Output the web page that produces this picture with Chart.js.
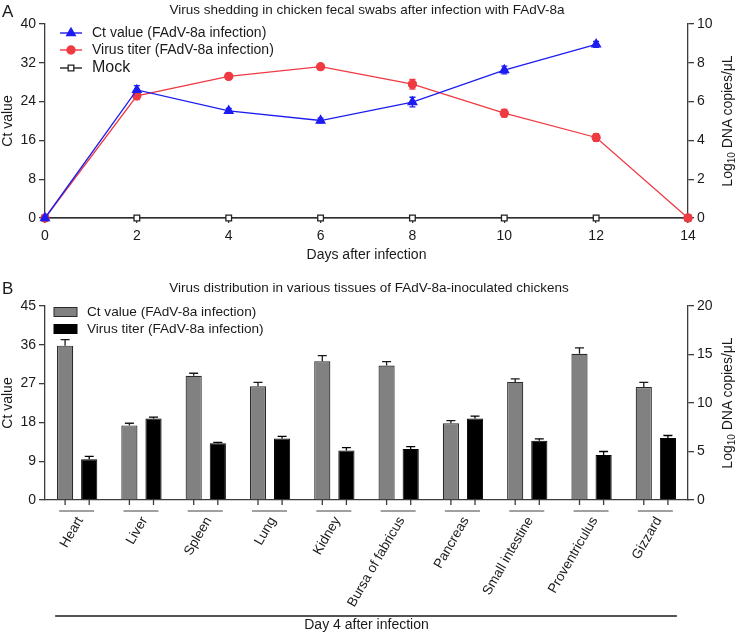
<!DOCTYPE html>
<html>
<head>
<meta charset="utf-8">
<title>FAdV-8a shedding and distribution</title>
<script src="https://cdn.jsdelivr.net/npm/chart.js@4.4.1/dist/chart.umd.min.js"></script>
<style>
  body { margin: 0; background: #fff; font-family: "Liberation Sans", Arial, sans-serif; color: #1a1a1a; }
  #wrap { position: relative; width: 740px; height: 636px; overflow: hidden; }
  canvas { position: absolute; left: 0; }
  #chartA { top: 0; }
  #chartB { top: 270px; }
  .lbl { position: absolute; white-space: nowrap; line-height: 1; }
  .panel { font-size: 17px; }
  .title { font-size: 13.5px; transform: translate(-50%, -50%); }
  .vt { font-size: 14px; transform: translate(-50%, -50%) rotate(-90deg); }
  .vt sub { font-size: 10px; vertical-align: -3px; line-height: 0; }
</style>
</head>
<body>
<div id="wrap">
  <canvas id="chartA" width="740" height="270"></canvas>
  <canvas id="chartB" width="740" height="366"></canvas>

  <div class="lbl panel" style="left:2px; top:3px;">A</div>
  <div class="lbl title" style="left:367px; top:10px;">Virus shedding in chicken fecal swabs after infection with FAdV-8a</div>
  <div class="lbl vt" style="left:727px; top:121px;">Log<sub>10</sub> DNA copies/μL</div>

  <div class="lbl panel" style="left:2px; top:280px;">B</div>
  <div class="lbl title" style="left:369px; top:288px;">Virus distribution in various tissues of FAdV-8a-inoculated chickens</div>
  <div class="lbl vt" style="left:727px; top:403px;">Log<sub>10</sub> DNA copies/μL</div>
</div>

<script>
// panel A: fecal swabs
const days = ["0", "2", "4", "6", "8", "10", "12", "14"];
const ctShedding = [0, 26.4, 22.1, 20.1, 23.9, 30.5, 35.8, null];
const ctSheddingErr = [0, 0.9, 0.5, 0.5, 1.0, 0.8, 0.6, 0];
const titerShedding = [0, 6.3, 7.3, 7.8, 6.9, 5.4, 4.15, 0];
const titerSheddingErr = [0, 0.2, 0.15, 0.1, 0.25, 0.2, 0.2, 0];
const mockShedding = [0, 0, 0, 0, 0, 0, 0, 0];

// panel B: tissues on day 4
const tissues = ["Heart", "Liver", "Spleen", "Lung", "Kidney", "Bursa of fabricus",
  "Pancreas", "Small intestine", "Proventriculus", "Gizzard"];
const ctTissue = [35.8, 17.3, 28.8, 26.4, 32.2, 31.2, 17.8, 27.4, 33.9, 26.2];
const ctTissueErr = [1.4, 0.5, 0.6, 0.9, 1.3, 0.9, 0.6, 0.7, 1.4, 1.1];
const titerTissue = [4.2, 8.4, 5.85, 6.35, 5.1, 5.25, 8.4, 6.1, 4.65, 6.4];
const titerTissueErr = [0.3, 0.15, 0.1, 0.2, 0.3, 0.25, 0.25, 0.2, 0.35, 0.25];

Chart.defaults.font.family = '"Liberation Sans", Arial, Helvetica, sans-serif';
Chart.defaults.font.size = 14;
Chart.defaults.color = '#1a1a1a';

const axisColor = '#3c3c3c';
const blue = '#1c1cf2';
const red = '#ef3a42';

// whiskers drawn with the value scales
const errorBars = {
  id: 'errorBars',
  beforeDatasetsDraw(chart, args, opts) {
    const ctx = chart.ctx;
    chart.data.datasets.forEach((ds, i) => {
      if (!ds.errorBars) return;
      const meta = chart.getDatasetMeta(i);
      const yScale = chart.scales[meta.yAxisID];
      ctx.save();
      ctx.strokeStyle = ds.errorColor || ds.borderColor;
      ctx.lineWidth = 1.3;
      meta.data.forEach((el, j) => {
        const v = ds.data[j];
        const e = ds.errorBars[j];
        if (v == null || !e) return;
        const x = el.x;
        const top = yScale.getPixelForValue(v + e);
        const bottom = opts.oneSided ? el.y : yScale.getPixelForValue(v - e);
        const half = opts.cap / 2;
        ctx.beginPath();
        ctx.moveTo(x, bottom); ctx.lineTo(x, top);
        ctx.moveTo(x - half, top); ctx.lineTo(x + half, top);
        if (!opts.oneSided) { ctx.moveTo(x - half, bottom); ctx.lineTo(x + half, bottom); }
        ctx.stroke();
      });
      ctx.restore();
    });
  }
};

// legend like the original (line + marker, or filled box)
const sampleLegend = {
  id: 'sampleLegend',
  afterDraw(chart, args, opts) {
    const ctx = chart.ctx;
    chart.data.datasets.forEach((ds, i) => {
      const y = opts.rows[i];
      ctx.save();
      if (opts.mode === 'line') {
        ctx.strokeStyle = ds.borderColor;
        ctx.lineWidth = 1.4;
        ctx.beginPath();
        ctx.moveTo(opts.x, y); ctx.lineTo(opts.x + opts.len, y);
        ctx.stroke();
        ctx.fillStyle = ds.pointBackgroundColor;
        ctx.lineWidth = 1.3;
        Chart.helpers.drawPoint(ctx, {pointStyle: ds.pointStyle, radius: ds.pointRadius, rotation: 0, borderWidth: 1.3},
          opts.x + opts.len / 2, y);
      } else {
        ctx.fillStyle = ds.backgroundColor;
        ctx.strokeStyle = ds.borderColor;
        ctx.lineWidth = 1;
        ctx.fillRect(opts.x, y - opts.h / 2, opts.len, opts.h);
        ctx.strokeRect(opts.x, y - opts.h / 2, opts.len, opts.h);
      }
      ctx.fillStyle = '#1a1a1a';
      ctx.font = opts.sizes[i] + 'px "Liberation Sans", Arial, sans-serif';
      ctx.textBaseline = 'middle';
      ctx.fillText(ds.label, opts.textX, y);
      ctx.restore();
    });
  }
};

// bar-center ticks, group underlines and the long bracket line in panel B
const tissueAxis = {
  id: 'tissueAxis',
  afterDraw(chart) {
    const ctx = chart.ctx;
    const x = chart.scales.x;
    const base = x.top;
    ctx.save();
    ctx.strokeStyle = axisColor;
    ctx.lineWidth = 1.3;
    chart.data.datasets.forEach((ds, i) => {
      chart.getDatasetMeta(i).data.forEach(el => {
        ctx.beginPath(); ctx.moveTo(el.x, base); ctx.lineTo(el.x, base + 5); ctx.stroke();
      });
    });
    ctx.strokeStyle = '#808080';
    ctx.lineWidth = 1.6;
    tissues.forEach((t, i) => {
      const c = x.getPixelForValue(i);
      ctx.beginPath(); ctx.moveTo(c - 18, base + 11); ctx.lineTo(c + 17, base + 11); ctx.stroke();
    });
    ctx.strokeStyle = '#1a1a1a';
    ctx.lineWidth = 1.3;
    ctx.beginPath();
    ctx.moveTo(x.getPixelForValue(0) - 22, base + 116);
    ctx.lineTo(x.getPixelForValue(tissues.length - 1) + 21, base + 116);
    ctx.stroke();
    ctx.restore();
  }
};

function yAxis(pos, max, step, width, title) {
  return {
    position: pos,
    min: 0, max: max,
    ticks: {stepSize: step, padding: 3, font: {size: 14}},
    grid: {drawOnChartArea: false, color: axisColor, lineWidth: 1.3, tickLength: 6},
    border: {color: axisColor, width: 1.3},
    title: {display: !!title, text: title, font: {size: 14}, padding: {top: 0, bottom: 0}},
    afterFit: s => { s.width = width; }
  };
}

new Chart(document.getElementById('chartA'), {
  type: 'line',
  data: {
    labels: days,
    datasets: [
      {
        label: 'Ct value (FAdV-8a infection)', data: ctShedding, errorBars: ctSheddingErr, yAxisID: 'y',
        borderColor: blue, backgroundColor: blue, pointBackgroundColor: blue, pointBorderColor: blue,
        pointStyle: 'triangle', pointRadius: 5, borderWidth: 1.3, clip: false
      },
      {
        label: 'Virus titer (FAdV-8a infection)', data: titerShedding, errorBars: titerSheddingErr, yAxisID: 'y2',
        borderColor: red, backgroundColor: red, pointBackgroundColor: red, pointBorderColor: red,
        pointStyle: 'circle', pointRadius: 4, borderWidth: 1.3, clip: false
      },
      {
        label: 'Mock', data: mockShedding, yAxisID: 'y',
        borderColor: '#222', backgroundColor: '#fff', pointBackgroundColor: '#fff', pointBorderColor: '#222',
        pointStyle: 'rect', pointRadius: 4, pointBorderWidth: 1.3, borderWidth: 1.2, clip: false
      }
    ]
  },
  options: {
    responsive: false,
    animation: false,
    devicePixelRatio: 1,
    layout: {padding: {top: 24, left: 0, right: 0, bottom: 0}},
    plugins: {
      legend: {display: false},
      tooltip: {enabled: false},
      errorBars: {cap: 6, oneSided: false},
      sampleLegend: {mode: 'line', x: 60, len: 22, textX: 92, rows: [33, 50, 68], sizes: [14, 14, 16]}
    },
    scales: {
      x: {
        offset: false,
        ticks: {padding: 5, font: {size: 14}, autoSkip: false, maxRotation: 0},
        grid: {drawOnChartArea: false, color: axisColor, lineWidth: 1.3, tickLength: 5},
        border: {color: axisColor, width: 1.3},
        title: {display: true, text: 'Days after infection', font: {size: 14}, padding: {top: 0, bottom: 6}},
        afterFit: s => { s.height = 52; }
      },
      y: yAxis('left', 40, 8, 45, 'Ct value'),
      y2: yAxis('right', 10, 2, 52, '')
    }
  },
  plugins: [errorBars, sampleLegend]
});

new Chart(document.getElementById('chartB'), {
  type: 'bar',
  data: {
    labels: tissues,
    datasets: [
      {
        label: 'Ct value (FAdV-8a infection)', data: ctTissue, errorBars: ctTissueErr, yAxisID: 'y',
        backgroundColor: '#818181', borderColor: '#2a2a2a', errorColor: '#1a1a1a', borderWidth: 1.2,
        categoryPercentage: 0.75, barPercentage: 0.67
      },
      {
        label: 'Virus titer (FAdV-8a infection)', data: titerTissue, errorBars: titerTissueErr, yAxisID: 'y2',
        backgroundColor: '#000', borderColor: '#000', errorColor: '#000', borderWidth: 1,
        categoryPercentage: 0.75, barPercentage: 0.67
      }
    ]
  },
  options: {
    responsive: false,
    animation: false,
    devicePixelRatio: 1,
    layout: {padding: {top: 36, left: 0, right: 0, bottom: 0}},
    plugins: {
      legend: {display: false},
      tooltip: {enabled: false},
      errorBars: {cap: 9, oneSided: true},
      sampleLegend: {mode: 'box', x: 54, len: 23, h: 9, textX: 87, rows: [42, 59], sizes: [13.6, 13.6]}
    },
    scales: {
      x: {
        ticks: {minRotation: 60, maxRotation: 60, autoSkip: false, labelOffset: 3, padding: 14, font: {size: 13.5}},
        grid: {display: false, drawTicks: false},
        border: {color: axisColor, width: 1.3},
        title: {display: true, text: 'Day 4 after infection', font: {size: 14}, padding: {top: 0, bottom: 2}},
        afterFit: s => { s.height = 136; }
      },
      y: yAxis('left', 45, 9, 45, 'Ct value'),
      y2: yAxis('right', 20, 5, 52, '')
    }
  },
  plugins: [errorBars, sampleLegend, tissueAxis]
});
</script>
</body>
</html>
